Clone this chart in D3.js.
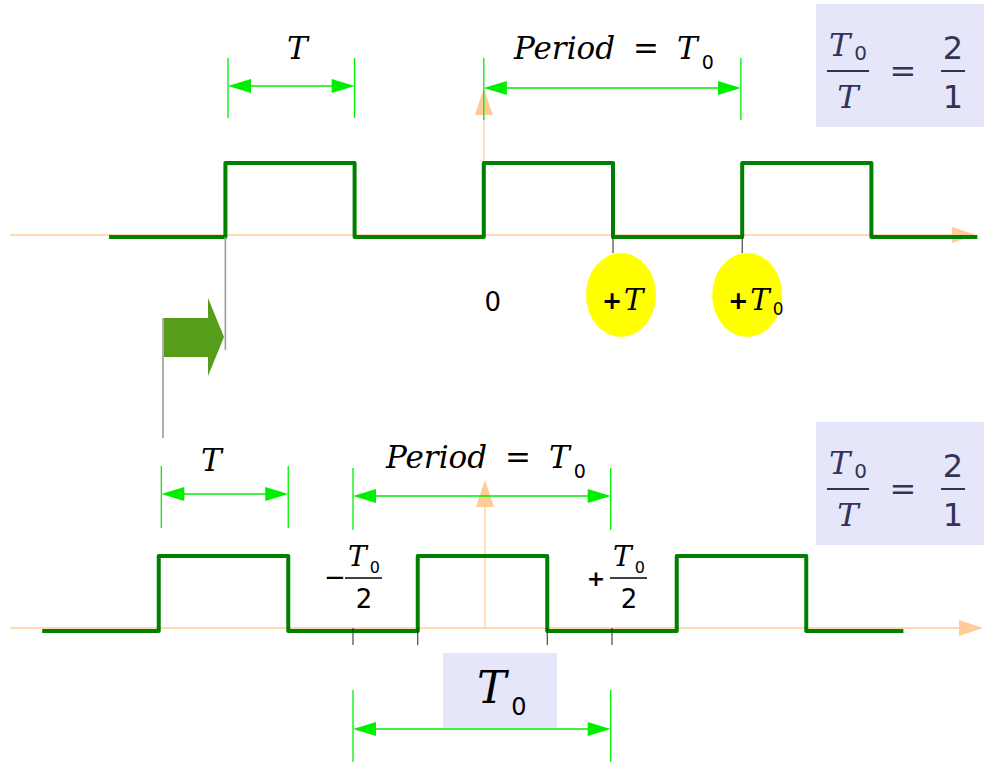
<!DOCTYPE html>
<html><head><meta charset="utf-8">
<script src="https://cdn.jsdelivr.net/npm/d3@7"></script>
<style>body{margin:0;background:#fff}svg{display:block}</style>
</head><body>
<script>
// ---- data (time in units of T; T0 = 2T) ----
const T = 1, T0 = 2;
const topEdges = [-2.9, -2, -1, 0, 1, 2, 3, 3.82];        // start, transitions, end
const topLevels = [0, 1, 0, 1, 0, 1, 0];                   // level between edges
const botEdges = [-3.4, -2.5, -1.5, -0.5, 0.5, 1.5, 2.5, 3.25];
const botLevels = [0, 1, 0, 1, 0, 1, 0];
const topMarks = [1, 2];                // +T, +T0
const topMarkLabels = ["+T", "+T0"];
const botTicks = [-1, -0.5, 0.5, 1];    // -T0/2, edges, +T0/2
const ratio = [2, 1];

const W = 984, H = 763;
const svg = d3.select("body").append("svg").attr("width", W).attr("height", H);
const x = d3.scaleLinear().domain([0, 1]).range([483.8, 613]);
const xb = d3.scaleLinear().domain([0, 1]).range([482.5, 612]);
const yTop = d3.scaleLinear().domain([0, 1]).range([237, 163]);
const yBot = d3.scaleLinear().domain([0, 1]).range([631, 556]);

const axisCol = "#ffcc99", dimCol = "#00ee00", waveCol = "#008000", boxCol = "#e6e6fa";
const serif = "'DejaVu Serif', serif";
const sans = "'DejaVu Sans', sans-serif";

function hAxis(y, x0, x1) {
  svg.append("line").attr("x1", x0).attr("x2", x1 - 18).attr("y1", y).attr("y2", y)
    .attr("stroke", axisCol).attr("stroke-width", 1.3);
  svg.append("path").attr("d", `M${x1},${y} L${x1-24},${y-8} L${x1-24},${y+8}Z`).attr("fill", axisCol);
}
function vAxis(xp, y0, y1) {
  svg.append("line").attr("x1", xp).attr("x2", xp).attr("y1", y0).attr("y2", y1 + 20)
    .attr("stroke", axisCol).attr("stroke-width", 1.3);
  svg.append("path").attr("d", `M${xp},${y1} L${xp-9},${y1+27} L${xp+9},${y1+27}Z`).attr("fill", axisCol);
}
function wave(edges, levels, xs, ys) {
  const pts = [];
  levels.forEach((lv, i) => { pts.push([xs(edges[i]), ys(lv)]); pts.push([xs(edges[i+1]), ys(lv)]); });
  svg.append("path").attr("d", d3.line()(pts)).attr("fill", "none")
    .attr("stroke", waveCol).attr("stroke-width", 4).attr("stroke-linejoin", "round");
}
function dim(xs, a, b, yLine, yTopL, yBotL) {
  const x0 = xs(a), x1 = xs(b);
  [x0, x1].forEach(xx => svg.append("line").attr("x1", xx).attr("x2", xx).attr("y1", yTopL).attr("y2", yBotL)
    .attr("stroke", dimCol).attr("stroke-width", 1.3));
  svg.append("line").attr("x1", x0 + 20).attr("x2", x1 - 20).attr("y1", yLine).attr("y2", yLine)
    .attr("stroke", dimCol).attr("stroke-width", 1.6);
  svg.append("path").attr("d", `M${x0},${yLine} L${x0+23},${yLine-7} L${x0+23},${yLine+7}Z`).attr("fill", dimCol);
  svg.append("path").attr("d", `M${x1},${yLine} L${x1-23},${yLine-7} L${x1-23},${yLine+7}Z`).attr("fill", dimCol);
}
function italicT(xx, y, size) {
  svg.append("text").attr("x", xx).attr("y", y).attr("font-family", serif).attr("font-size", size)
    .attr("font-style", "italic").text("T");
}
function periodLabel(xx, y) {
  const t = svg.append("text").attr("x", xx).attr("y", y).attr("font-family", serif).attr("font-size", 31).attr("fill", "#000");
  t.append("tspan").attr("font-style", "italic").text("Period");
  t.append("tspan").attr("dx", 18).text("=");
  t.append("tspan").attr("dx", 18).attr("font-style", "italic").text("T");
  t.append("tspan").attr("dx", 4).attr("dy", 10).attr("font-size", 19).attr("font-family", sans).text("0");
}
function ratioBox(y0) {
  const g = svg.append("g");
  g.append("rect").attr("x", 816).attr("y", y0).attr("width", 168).attr("height", 123).attr("fill", boxCol);
  const c = "#333355";
  const num = g.append("text").attr("x", 829).attr("y", y0 + 52).attr("font-family", serif).attr("font-size", 32).attr("fill", c);
  num.append("tspan").attr("font-style", "italic").text("T");
  num.append("tspan").attr("dx", 4).attr("dy", 4).attr("font-size", 20).attr("font-family", sans).text("0");
  g.append("line").attr("x1", 827).attr("x2", 869).attr("y1", y0 + 67).attr("y2", y0 + 67).attr("stroke", c).attr("stroke-width", 2);
  g.append("text").attr("x", 848).attr("y", y0 + 104).attr("text-anchor", "middle").attr("font-family", serif)
    .attr("font-style", "italic").attr("font-size", 32).attr("fill", c).text("T");
  g.append("text").attr("x", 903).attr("y", y0 + 78).attr("text-anchor", "middle").attr("font-family", serif)
    .attr("font-size", 32).attr("fill", c).text("=");
  g.append("text").attr("x", 953).attr("y", y0 + 55).attr("text-anchor", "middle").attr("font-family", sans)
    .attr("font-size", 32).attr("fill", c).text(ratio[0]);
  g.append("line").attr("x1", 941).attr("x2", 965).attr("y1", y0 + 67).attr("y2", y0 + 67).attr("stroke", c).attr("stroke-width", 2);
  g.append("text").attr("x", 953).attr("y", y0 + 104).attr("text-anchor", "middle").attr("font-family", sans)
    .attr("font-size", 32).attr("fill", c).text(ratio[1]);
}

// ---------- TOP PANEL ----------
hAxis(yTop(0) - 2, 10, 976);
vAxis(x(0), yTop(0) - 2, 88);
dim(x, -2 + 0.02, -1, 86, 58, 118);
dim(x, 0, T0 - 0.01, 88, 58, 120);
italicT(287, 59, 31);
periodLabel(514, 59);
ratioBox(4);
wave(topEdges, topLevels, x, yTop);
svg.append("text").attr("x", x(0) + 9).attr("y", 311).attr("text-anchor", "middle")
  .attr("font-family", sans).attr("font-size", 26).text("0");

// marks +T, +T0
topMarks.forEach((m, i) => {
  const xx = x(m * T);
  svg.append("line").attr("x1", xx).attr("x2", xx).attr("y1", yTop(0)).attr("y2", 253).attr("stroke", "#222").attr("stroke-width", 1);
  const cx = xx + (i === 0 ? 8 : 5);
  svg.append("ellipse").attr("cx", cx).attr("cy", 295).attr("rx", 35).attr("ry", 42).attr("fill", "#ffff00");
  const t = svg.append("text").attr("x", cx - 19).attr("y", 310).attr("font-family", serif).attr("font-size", 29);
  t.append("tspan").attr("font-family", sans).attr("font-weight", "bold").attr("font-size", 24).attr("dy", -1).text("+");
  t.append("tspan").attr("font-style", "italic").attr("dx", 2).attr("dy", 1).text("T");
  if (topMarkLabels[i] === "+T0") t.append("tspan").attr("dx", 3).attr("dy", 5).attr("font-size", 17).attr("font-family", sans).text("0");
});

// shift indicator: gray lines and block arrow
svg.append("line").attr("x1", x(-2)).attr("x2", x(-2)).attr("y1", yTop(0)).attr("y2", 350).attr("stroke", "#999").attr("stroke-width", 1.6);
svg.append("line").attr("x1", 163).attr("x2", 163).attr("y1", 318).attr("y2", 438).attr("stroke", "#999").attr("stroke-width", 1.6);
svg.append("path").attr("d", "M164,318 L208,318 L208,298 L224,337 L208,376 L208,357 L164,357Z").attr("fill", "#579d1c");

// ---------- BOTTOM PANEL ----------
hAxis(yBot(0) - 3, 10, 983);
vAxis(xb(0) + 2.5, yBot(0) - 3, 480);
dim(xb, -2.5 + 0.02, -1.5, 494, 466, 528);
dim(xb, -1, 1 - 0.01, 496, 468, 530);
italicT(201, 471, 31);
periodLabel(386, 468);
ratioBox(422);
wave(botEdges, botLevels, xb, yBot);

botTicks.forEach(t => {
  const xx = xb(t * (t === -1 || t === 1 ? T0 / 2 : 1));
  svg.append("line").attr("x1", xx).attr("x2", xx).attr("y1", yBot(0) - 3).attr("y2", 645).attr("stroke", "#222").attr("stroke-width", 1);
});

function halfT0(cx, sign) {
  const g = svg.append("g");
  g.append("text").attr("x", cx - (sign === "+" ? 33 : 29)).attr("y", 586).attr("text-anchor", "middle").attr("font-family", sans)
    .attr("font-size", sign === "+" ? 22 : 26).attr("font-weight", sign === "+" ? "bold" : "normal").text(sign === "+" ? "+" : "\u2212");
  const n = g.append("text").attr("x", cx - 16).attr("y", 566).attr("font-family", serif).attr("font-size", 28);
  n.append("tspan").attr("font-style", "italic").text("T");
  n.append("tspan").attr("dx", 3).attr("dy", 7).attr("font-size", 16).attr("font-family", sans).text("0");
  g.append("line").attr("x1", cx - 19).attr("x2", cx + 18).attr("y1", 578).attr("y2", 578).attr("stroke", "#000").attr("stroke-width", 1.5);
  g.append("text").attr("x", cx).attr("y", 608).attr("text-anchor", "middle").attr("font-family", sans).attr("font-size", 26).text("2");
}
halfT0(xb(-1) + 11, "-");
halfT0(xb(1) + 17, "+");

// T0 box + dimension
svg.append("rect").attr("x", 443).attr("y", 653).attr("width", 114).attr("height", 75).attr("fill", boxCol);
const t0 = svg.append("text").attr("x", 477).attr("y", 703).attr("font-family", serif).attr("font-size", 44);
t0.append("tspan").attr("font-style", "italic").text("T");
t0.append("tspan").attr("dx", 5).attr("dy", 12).attr("font-size", 24).attr("font-family", sans).text("0");
dim(xb, -1, 1 - 0.01, 729, 690, 762);
</script>
</body></html>
